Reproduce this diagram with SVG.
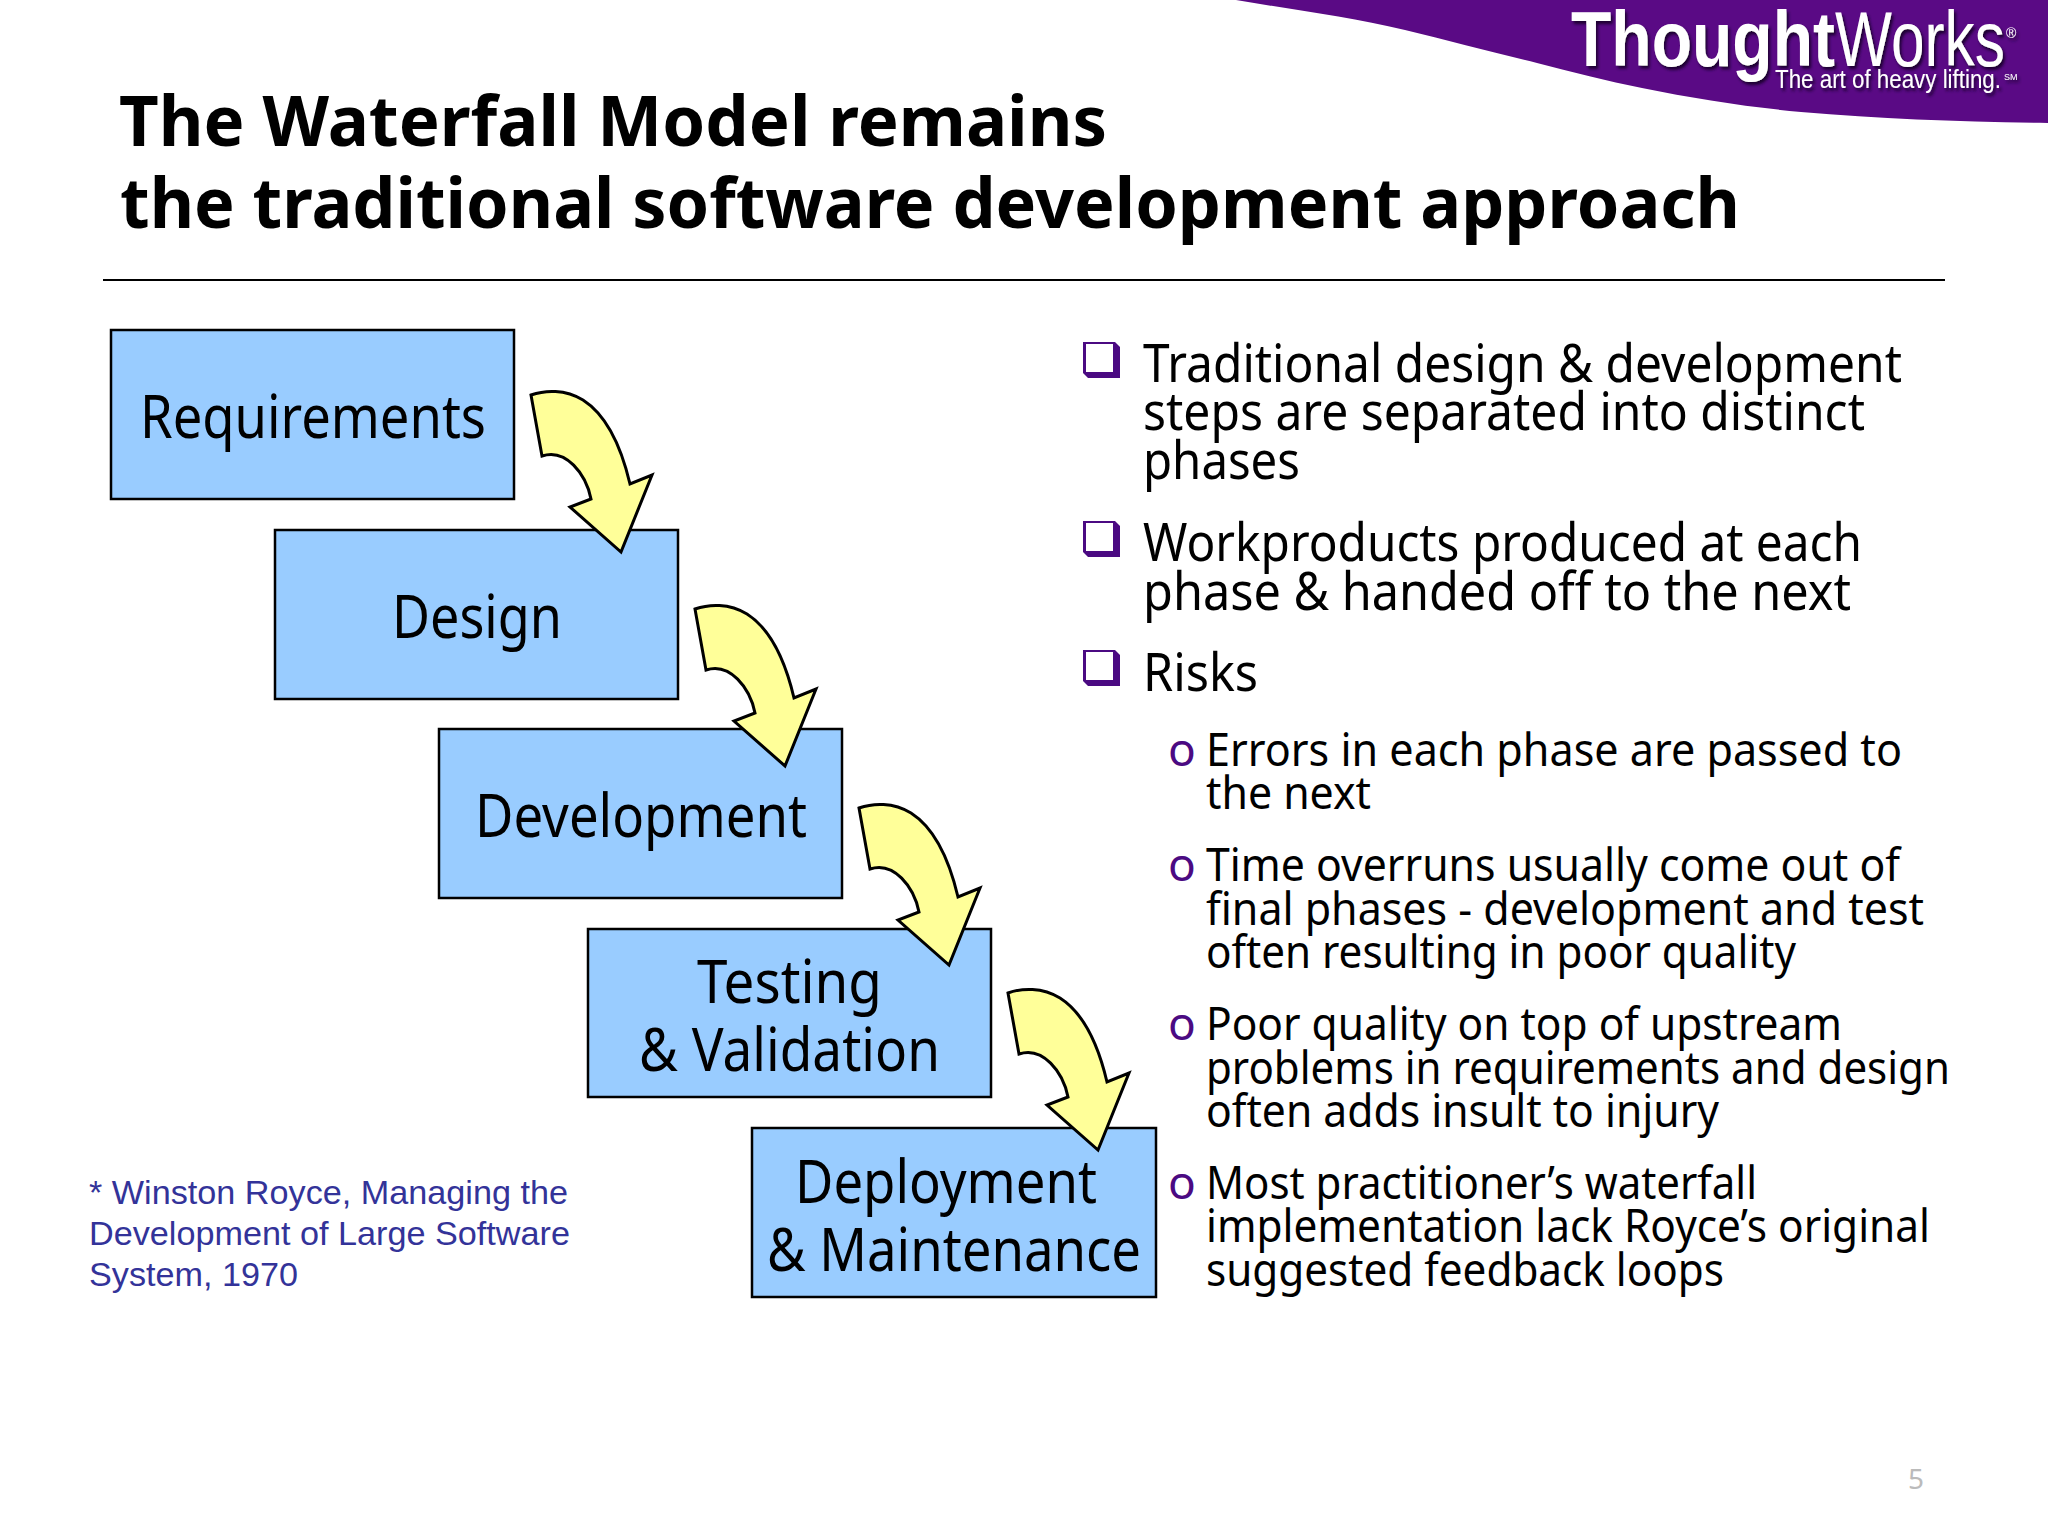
<svg xmlns="http://www.w3.org/2000/svg" xmlns:xlink="http://www.w3.org/1999/xlink" width="2048" height="1536" viewBox="0 0 2048 1536">
<style>
text{font-family:"Noto Sans","DejaVu Sans",sans-serif;fill:#000}
.title{font-size:70px;font-weight:bold}
.box{fill:#99ccff;stroke:#000;stroke-width:2.5}
.lbl{font-size:60px}
.b1{font-size:52px}
.b2{font-size:46px}
.o{fill:#4b0a82}
.note{font-family:"Liberation Sans",Arial,sans-serif;font-size:34px;fill:#333399}
.arrow{fill:#ffff99;stroke:#000;stroke-width:3;stroke-linejoin:miter}
.sq{fill:#4b0a82}
.logo{fill:#fff;font-family:"Liberation Sans",sans-serif}
</style>
<defs>
<filter id="sh" x="-5%" y="-10%" width="110%" height="130%"><feDropShadow dx="2" dy="3" stdDeviation="1.5" flood-color="#1c0030"/></filter>
<path id="ar" class="arrow" d="M531 395C545 390 565 389 583 400C608 416 622 450 630 484L652 475L621 552L570 507L591 499C586 474 566 448 542 456Z"/>
<g id="sqb"><path class="sq" d="M1083 342H1115L1120 347V378H1088L1083 373Z"/><rect x="1086" y="344" width="27" height="28" fill="#fff"/></g>
</defs>
<rect width="2048" height="1536" fill="#fff"/>
<g id="logo">
<path d="M1236 0C1295 10 1350 17 1405 30C1450 41 1492 52 1537 63C1572 72 1607 81 1642 88C1695 99 1748 107 1801 112C1882 119 1965 122 2048 123V0Z" fill="#5a0a85"/>
<g filter="url(#sh)">
<text class="logo" x="1571" y="66" font-size="77" font-weight="bold" textLength="264" lengthAdjust="spacingAndGlyphs">Thought</text>
<text class="logo" x="1835" y="66" font-size="77" textLength="170" lengthAdjust="spacingAndGlyphs">Works</text>
<text class="logo" x="2006" y="38" font-size="14">®</text>
<text class="logo" x="1775" y="88" font-size="26" textLength="226" lengthAdjust="spacingAndGlyphs">The art of heavy lifting.</text>
<text class="logo" x="2004" y="80" font-size="9">SM</text>
</g>
</g>
<g id="title">
<text class="title" x="119" y="146" textLength="988" lengthAdjust="spacingAndGlyphs">The Waterfall Model remains</text>
<text class="title" x="120" y="228" textLength="1620" lengthAdjust="spacingAndGlyphs">the traditional software development approach</text>
<line x1="103" y1="280" x2="1945" y2="280" stroke="#000" stroke-width="2"/>
</g>
<g id="n-requirements"><rect class="box" x="111" y="330" width="403" height="169"/><text class="lbl" x="140" y="438" textLength="346" lengthAdjust="spacingAndGlyphs">Requirements</text></g>
<g id="n-design"><rect class="box" x="275" y="530" width="403" height="169"/><text class="lbl" x="392" y="638" textLength="170" lengthAdjust="spacingAndGlyphs">Design</text></g>
<g id="n-development"><rect class="box" x="439" y="729" width="403" height="169"/><text class="lbl" x="475" y="837" textLength="332" lengthAdjust="spacingAndGlyphs">Development</text></g>
<g id="n-testing"><rect class="box" x="588" y="929" width="403" height="168"/><text class="lbl" x="697" y="1003" textLength="185" lengthAdjust="spacingAndGlyphs">Testing</text><text class="lbl" x="639" y="1071" textLength="301" lengthAdjust="spacingAndGlyphs">&amp; Validation</text></g>
<g id="n-deployment"><rect class="box" x="752" y="1128" width="404" height="169"/><text class="lbl" x="795" y="1203" textLength="302" lengthAdjust="spacingAndGlyphs">Deployment</text><text class="lbl" x="767" y="1271" textLength="374" lengthAdjust="spacingAndGlyphs">&amp; Maintenance</text></g>
<g id="connectors">
<use xlink:href="#ar" href="#ar"/>
<use xlink:href="#ar" href="#ar" transform="translate(164,214)"/>
<use xlink:href="#ar" href="#ar" transform="translate(328,413)"/>
<use xlink:href="#ar" href="#ar" transform="translate(477,598)"/>
</g>
<g id="bullets">
<use xlink:href="#sqb" href="#sqb"/>
<use xlink:href="#sqb" href="#sqb" y="179"/>
<use xlink:href="#sqb" href="#sqb" y="308"/>
<text class="b1" x="1143" y="382" textLength="759" lengthAdjust="spacingAndGlyphs">Traditional design &amp; development</text>
<text class="b1" x="1143" y="430" textLength="722" lengthAdjust="spacingAndGlyphs">steps are separated into distinct</text>
<text class="b1" x="1143" y="479" textLength="157" lengthAdjust="spacingAndGlyphs">phases</text>
<text class="b1" x="1143" y="561" textLength="719" lengthAdjust="spacingAndGlyphs">Workproducts produced at each</text>
<text class="b1" x="1143" y="610" textLength="708" lengthAdjust="spacingAndGlyphs">phase &amp; handed off to the next</text>
<text class="b1" x="1143" y="691" textLength="115" lengthAdjust="spacingAndGlyphs">Risks</text>
<text class="b2 o" x="1168" y="766">o</text>
<text class="b2 o" x="1168" y="881">o</text>
<text class="b2 o" x="1168" y="1040">o</text>
<text class="b2 o" x="1168" y="1199">o</text>
<text class="b2" x="1206" y="766" textLength="696" lengthAdjust="spacingAndGlyphs">Errors in each phase are passed to</text>
<text class="b2" x="1206" y="809" textLength="165" lengthAdjust="spacingAndGlyphs">the next</text>
<text class="b2" x="1206" y="881" textLength="694" lengthAdjust="spacingAndGlyphs">Time overruns usually come out of</text>
<text class="b2" x="1206" y="925" textLength="718" lengthAdjust="spacingAndGlyphs">final phases - development and test</text>
<text class="b2" x="1206" y="968" textLength="590" lengthAdjust="spacingAndGlyphs">often resulting in poor quality</text>
<text class="b2" x="1206" y="1040" textLength="636" lengthAdjust="spacingAndGlyphs">Poor quality on top of upstream</text>
<text class="b2" x="1206" y="1084" textLength="744" lengthAdjust="spacingAndGlyphs">problems in requirements and design</text>
<text class="b2" x="1206" y="1127" textLength="513" lengthAdjust="spacingAndGlyphs">often adds insult to injury</text>
<text class="b2" x="1206" y="1199" textLength="551" lengthAdjust="spacingAndGlyphs">Most practitioner’s waterfall</text>
<text class="b2" x="1206" y="1242" textLength="724" lengthAdjust="spacingAndGlyphs">implementation lack Royce’s original</text>
<text class="b2" x="1206" y="1286" textLength="518" lengthAdjust="spacingAndGlyphs">suggested feedback loops</text>
</g>
<g id="note">
<text class="note" x="89" y="1204" textLength="479" lengthAdjust="spacingAndGlyphs">* Winston Royce, Managing the</text>
<text class="note" x="89" y="1245" textLength="481" lengthAdjust="spacingAndGlyphs">Development of Large Software</text>
<text class="note" x="89" y="1286" textLength="209" lengthAdjust="spacingAndGlyphs">System, 1970</text>
</g>
<text x="1908" y="1489" font-size="28" style="fill:#bbb">5</text>
</svg>
